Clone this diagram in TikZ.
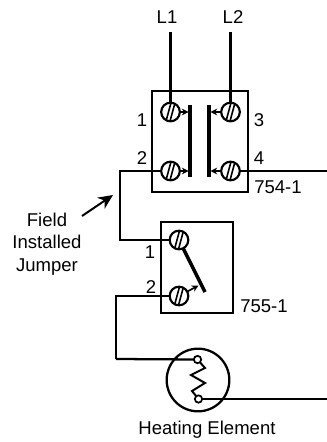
\documentclass[tikz,border=0pt]{standalone}
\usepackage{fontspec}
\setmainfont{Liberation Sans}
\usetikzlibrary{arrows.meta}
\tikzset{
    wire/.style={line width=1.7pt,line join=miter},
    housing/.style={draw,line width=1.7pt,rectangle,inner sep=0pt,outer sep=0pt},
    screw/.style={draw,circle,line width=1.6pt,fill=white,inner sep=0pt,outer sep=0pt,minimum size=14pt,
        path picture={
            \draw[line width=1.2pt] ([xshift=-3.4pt,yshift=-7pt]path picture bounding box.center) -- ([xshift=0.4pt,yshift=7pt]path picture bounding box.center);
            \draw[line width=1.2pt] ([xshift=-0.4pt,yshift=-7pt]path picture bounding box.center) -- ([xshift=3.4pt,yshift=7pt]path picture bounding box.center);
        }},
    lug/.style={draw,circle,line width=1.3pt,fill=white,inner sep=0pt,outer sep=0pt,minimum size=5.5pt},
    bar/.style={line width=3pt},
    tag/.style={inner sep=0.75pt,font=\fontsize{13.9pt}{17pt}\selectfont},
    pusher/.style={line width=1.2pt,-{Stealth[length=5pt,width=5pt]}},
}
\begin{document}
\begin{tikzpicture}[x=0.75pt,y=0.75pt,yscale=-1,xscale=1]
        \useasboundingbox (0,0) rectangle (327,442);

        % Housings
        \draw (200,141.5) node [housing,minimum width=72pt,minimum height=75.5pt] (box754) {};
        \draw (197,267.5) node [housing,minimum width=54pt,minimum height=68pt] (box755) {};

        % Text Node
        \draw (167,17) node [tag] (lblA) {L1};
        % Text Node
        \draw (233,17) node [tag] (lblB) {L2};
        \coordinate (topA) at (170.5,32);
        \coordinate (topB) at (230.5,32);
        \coordinate (rightA) at (327,171);
        \coordinate (rightB) at (327,399);
        \coordinate (jogA) at (120,171);
        \coordinate (jogB) at (120,240);
        \coordinate (jogC) at (116,296);
        \coordinate (jogD) at (116,359);

        % Screws
        \draw (170.5,112) node [screw] (scrA) {};
        \draw (230.5,112) node [screw] (scrB) {};
        \draw (170.5,171) node [screw] (scrC) {};
        \draw (230.5,171) node [screw] (scrD) {};
        \draw (179,240) node [screw] (scrE) {};
        \draw (179,296) node [screw] (scrF) {};

        % Wires
        \draw [wire] (topA) -- (scrA);
        \draw [wire] (topB) -- (scrB);
        \draw [wire] (scrD) -- (rightA);
        \draw [wire] (scrC) -- (jogA) -- (jogB) -- (scrE);
        \draw [wire] (scrF) -- (jogC) -- (jogD);

        % Contact bars
        \coordinate (barAt) at (190,105);
        \coordinate (barAb) at (190,177);
        \coordinate (barBt) at (209,105);
        \coordinate (barBb) at (209,177);
        \draw [bar] (barAt) -- (barAb);
        \draw [bar] (barBt) -- (barBb);
        \draw [pusher] (scrA) -- (188.5,112);
        \draw [pusher] (scrC) -- (188.5,171);
        \draw [pusher] (scrB) -- (210.5,112);
        \draw [pusher] (scrD) -- (210.5,171);

        % Switch arm
        \coordinate (armEnd) at (205,292);
        \draw [line width=2.6pt] (scrE) -- (armEnd);
        \draw [pusher] (scrF) -- (198.5,285.5);

        % Heating element
        \draw (198,380) node [draw,circle,line width=1.7pt,minimum size=47pt,inner sep=0pt,outer sep=0pt] (heater) {};
        \draw (197.5,359.5) node [lug] (lugA) {};
        \draw (198.5,399) node [lug] (lugB) {};
        \draw [wire] (jogD) -- (lugA);
        \draw [wire] (lugB) -- (rightB);
        \draw [line width=1.5pt] (lugA) -- (205,368) -- (191,375) -- (205,383) -- (192,391) -- (lugB);

        % Field jumper pointer
        \coordinate (ptrA) at (82,216);
        \coordinate (ptrB) at (113,195);
        \draw [line width=1.5pt,-{Stealth[length=11pt,width=10pt]}] (ptrA) -- (ptrB);

        % Text Node
        \draw (142,120) node [tag] (numA) {1};
        % Text Node
        \draw (142,158) node [tag] (numB) {2};
        % Text Node
        \draw (259,120) node [tag] (numC) {3};
        % Text Node
        \draw (259,158) node [tag] (numD) {4};
        % Text Node
        \draw (278,187) node [tag] (lbl754) {754-1};
        % Text Node
        \draw (150,252) node [tag] (numE) {1};
        % Text Node
        \draw (151,287) node [tag] (numF) {2};
        % Text Node
        \draw (264,306) node [tag] (lbl755) {755-1};
        % Text Node
        \draw (47,244) node [tag,align=center] (lblJumper) {Field\\Installed\\Jumper};
        % Text Node
        \draw (207,430) node [tag] (lblHeat) {Heating Element};
\end{tikzpicture}
\end{document}
